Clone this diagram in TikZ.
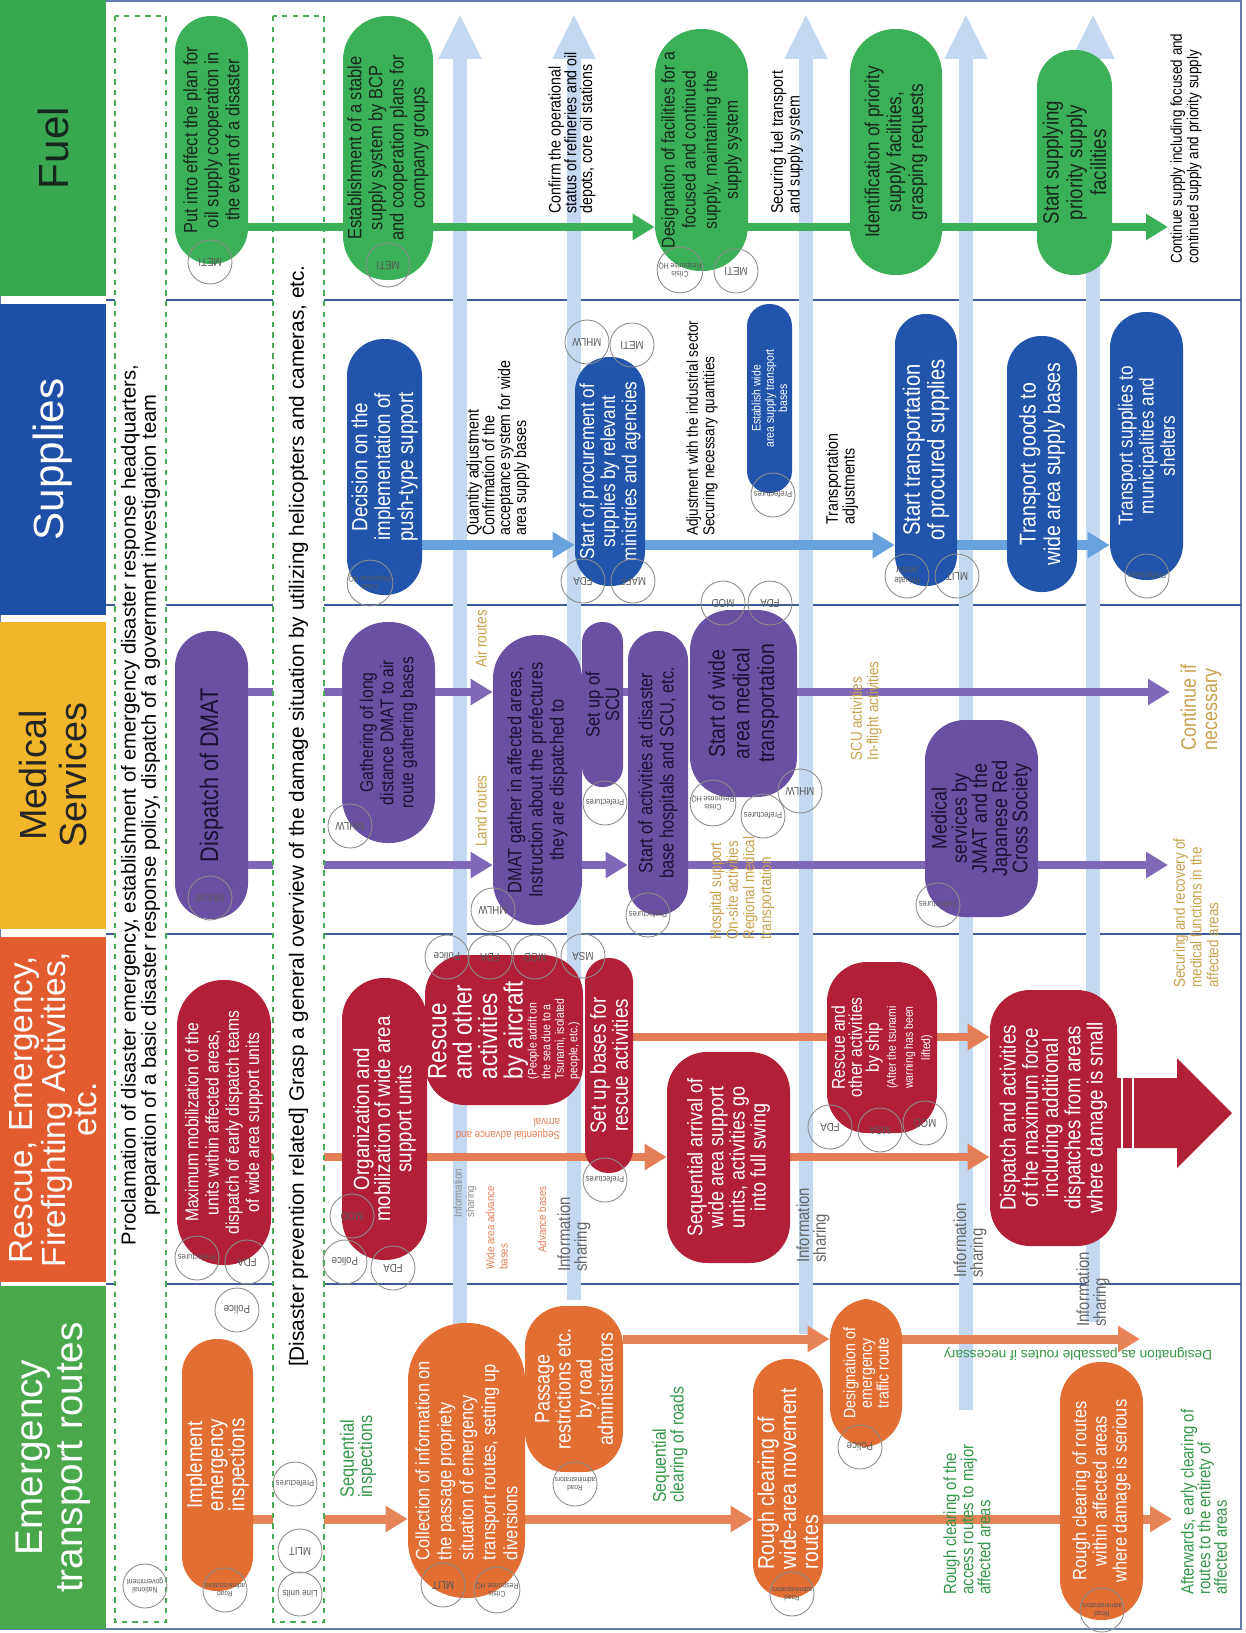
\documentclass[tikz,border=0pt]{standalone}
\usepackage{fontspec}
\setmainfont{Liberation Sans}
\newfontfamily\cond[FakeStretch=0.85]{Liberation Sans}
\usetikzlibrary{arrows.meta,backgrounds}
\definecolor{fuelhead}{RGB}{58,168,80}
\definecolor{fuelgreen}{RGB}{60,176,88}
\definecolor{fueltext}{RGB}{22,40,28}
\definecolor{suphead}{RGB}{30,78,165}
\definecolor{supblue}{RGB}{34,84,172}
\definecolor{suparrow}{RGB}{104,162,222}
\definecolor{medgold}{RGB}{242,182,42}
\definecolor{medpurple}{RGB}{106,80,162}
\definecolor{medarrow}{RGB}{128,104,184}
\definecolor{medtext}{RGB}{24,18,48}
\definecolor{goldtext}{RGB}{200,160,76}
\definecolor{reschead}{RGB}{226,92,48}
\definecolor{rescred}{RGB}{178,32,56}
\definecolor{resarrow}{RGB}{228,126,86}
\definecolor{emghead}{RGB}{74,168,76}
\definecolor{emgorange}{RGB}{226,110,52}
\definecolor{emgarrow}{RGB}{230,132,88}
\definecolor{emglabel}{RGB}{52,150,72}
\definecolor{laneblue}{RGB}{62,92,152}
\definecolor{bandblue}{RGB}{196,216,241}
\definecolor{dashgreen}{RGB}{72,170,82}
\newcommand\px{0.02cm}
\newcommand\fz[2]{\fontsize{#1}{#2}\selectfont}
\tikzset{
  hdr/.style={rectangle, rotate=90, align=center, inner sep=0pt},
  wh/.style 2 args={minimum height=#1*\px, minimum width=#2*\px},
  pl/.style 2 args={rectangle, rotate=90, align=center, inner sep=1pt,
    rounded corners=#1*0.0098cm, wh={#1}{#2}},
  rb/.style 2 args={rectangle, rotate=90, align=center, inner sep=1pt,
    rounded corners=0.8cm, wh={#1}{#2}},
  fuel/.style={fill=fuelgreen, text=fueltext, font=\cond\fz{11}{12}},
  sup/.style={fill=supblue, text=white, font=\cond\fz{11.5}{12}},
  med/.style={fill=medpurple, text=medtext, font=\cond\fz{11}{12}},
  res/.style={fill=rescred, text=white, font=\cond\fz{12}{12}},
  emg/.style={fill=emgorange, text=white, font=\cond\fz{12}{12}},
  note/.style={rotate=90, anchor=west, align=left, inner sep=0pt,
    font=\cond\fz{9}{9.5}},
  stamp/.style={circle, draw=black!45, line width=0.5pt, minimum size=44*\px,
    inner sep=0pt, rotate=180, align=center, text=black!65},
  band/.style={draw=bandblue, line width=0.28cm,
    -{Triangle[length=0.9cm,width=0.8cm]}},
  fuelline/.style={draw=fuelgreen, line width=0.16cm},
  supline/.style={draw=suparrow, line width=0.2cm},
  medline/.style={draw=medarrow, line width=0.16cm},
  resline/.style={draw=resarrow, line width=0.16cm},
  emgline/.style={draw=emgarrow, line width=0.18cm},
  lane/.style={draw=laneblue, line width=0.9pt},
  dashbox/.style={draw=dashgreen, fill=white, dashed, line width=0.9pt}
}
\begin{document}
\begin{tikzpicture}[x=0.02cm,y=-0.02cm,>={Triangle[length=0.44cm,width=0.5cm]}]
  \useasboundingbox (0,0) rectangle (1245,1633);

  \node[hdr,wh={106}{296},fill=fuelhead,text=fueltext,font=\fz{24}{26}] (hFuel) at (53,148) {Fuel};
  \node[hdr,wh={106}{311},fill=suphead,text=white,font=\fz{24}{26}] (hSup) at (53,459.5) {Supplies};
  \node[hdr,wh={106}{307},fill=medgold,text=black!85,font=\fz{21.5}{23}] (hMed) at (53,775.5) {Medical\\Services};
  \node[hdr,wh={106}{345},fill=reschead,text=white,font=\fz{19}{17.5}] (hRes) at (53,1109.5) {Rescue, Emergency,\\Firefighting Activities,\\etc.};
  \node[hdr,wh={106}{343},fill=emghead,text=white,font=\fz{22}{23}] (hEmg) at (53,1457.5) {Emergency\\transport routes};

  \draw[dashbox] (115,16) rectangle (166,1622);
  \draw[dashbox] (273,16) rectangle (324,1622);
  \node[rotate=90,align=center,inner sep=0pt,font=\fz{11.5}{11.5}] (tProcl) at (140.5,805)
    {Proclamation of disaster emergency, establishment of emergency disaster response headquarters,\\preparation of a basic disaster response policy, dispatch of a government investigation team};
  \node[rotate=90,inner sep=0pt,font=\fz{11.8}{12}] (tGrasp) at (298.5,816)
    {{}[Disaster prevention related] Grasp a general overview of the damage situation by utilizing helicopters and cameras, etc.};

  \coordinate (yF) at (0,227);
  \coordinate (yS) at (0,545);
  \coordinate (yM1) at (0,692);
  \coordinate (yM2) at (0,865);
  \coordinate (yRB) at (0,1037);
  \coordinate (yRA) at (0,1157);
  \coordinate (yEA) at (0,1339);
  \coordinate (yEB) at (0,1519);
  \coordinate (fEnd) at (1168,227);
  \coordinate (mEnd1) at (1170,692);
  \coordinate (mEnd2) at (1168,865);
  \coordinate (eEnd1) at (1140,1339);
  \coordinate (eEnd2) at (1172,1519);

  \node[pl={73}{248},fuel] (f1) at (211.5,140) {Put into effect the plan for\\oil supply cooperation in\\the event of a disaster};
  \node[pl={90}{264},fuel] (f2) at (388,148) {Establishment of a stable\\supply system by BCP\\and cooperation plans for\\company groups};
  \node[pl={93}{242},fuel,font=\cond\fz{10.5}{12}] (f3) at (701.5,150) {Designation of facilities for a\\focused and continued\\supply, maintaining the\\supply system};
  \node[pl={92}{246},fuel,font=\cond\fz{11.5}{12.5}] (f4) at (896,152) {Identification of priority\\supply facilities,\\grasping requests};
  \node[pl={75}{225},fuel,font=\cond\fz{12.5}{13.5}] (f5) at (1074.5,162.5) {Start supplying\\priority supply\\facilities};

  \node[pl={75}{256},sup,font=\cond\fz{12.5}{13}] (s1) at (384.5,467) {Decision on the\\implementation of\\push-type support};
  \node[pl={70}{229},sup] (s2) at (610,471.5) {Start of procurement of\\supplies by relevant\\ministries and agencies};
  \node[pl={45}{189},sup,font=\cond\fz{7}{7.5}] (s3) at (769.5,398.5) {Establish wide\\area supply transport\\bases};
  \node[pl={62}{272},sup,font=\cond\fz{13.5}{14}] (s4) at (926,450) {Start transportation\\of procured supplies};
  \node[pl={70}{256},sup,font=\cond\fz{13}{14}] (s5) at (1042,464) {Transport goods to\\wide area supply bases};
  \node[pl={73}{268},sup] (s6) at (1146.5,446) {Transport supplies to\\municipalities and\\shelters};

  \node[pl={73}{288},med,font=\cond\fz{14.5}{15}] (m1) at (211.5,775) {Dispatch of DMAT};
  \node[pl={93}{221},med,font=\cond\fz{10.5}{11.5}] (m2) at (388.5,732.5) {Gathering of long\\distance DMAT to air\\route gathering bases};
  \node[pl={89}{290},med] (m3) at (537.5,780) {DMAT gather in affected areas,\\Instruction about the prefectures\\they are dispatched to};
  \node[pl={41}{165},med,inner sep=0pt,font=\cond\fz{11}{11}] (m4) at (602.5,704.5) {Set up of\\SCU};
  \node[pl={60}{284},med] (m5) at (658,773) {Start of activities at disaster\\base hospitals and SCU, etc.};
  \node[rb={107}{187},med,font=\cond\fz{13}{14}] (m6) at (743.5,703.5) {Start of wide\\area medical\\transportation};
  \node[rb={113}{197},med,font=\cond\fz{12}{11.5}] (m7) at (981.5,818.5) {Medical\\services by\\JMAT and the\\Japanese Red\\Cross Society};

  \node[pl={94}{285},res,font=\cond\fz{10.5}{11.5}] (r1) at (224,1122.5) {Maximum mobilization of the\\units within affected areas,\\dispatch of early dispatch teams\\of wide area support units};
  \node[pl={85}{282},res,font=\cond\fz{12.5}{12}] (r2) at (384.5,1119) {Organization and\\mobilization of wide area\\support units};
  \node[rb={158}{150},res,align=left,inner sep=0pt,font=\cond\fz{15}{14.5}] (r3) at (504,1030) {Rescue\\and other\\activities\\by aircraft\\[-6.5pt]\fz{7}{7.4}(People adrift on\\[-6.8pt]\fz{7}{7.4}the sea due to a\\[-6.8pt]\fz{7}{7.4}Tsunami, isolated\\[-6.8pt]\fz{7}{7.4}people, etc.)};
  \node[pl={48}{215},res,inner sep=0pt,font=\cond\fz{12.5}{12.5}] (r4) at (609,1065.5) {Set up bases for\\rescue activities};
  \node[rb={123}{211},res] (r5) at (728.5,1157.5) {Sequential arrival of\\wide area support\\units, activities go\\into full swing};
  \node[rb={110}{171},res,font=\cond\fz{10.5}{9.7}] (r6) at (882,1047.5) {Rescue and\\other activities\\by ship\\\fz{7}{9.7}(After the tsunami\\\fz{7}{9.7}warning has been\\\fz{7}{9.7}lifted)};
  \node[rb={127}{256},res,font=\cond\fz{12.5}{11.5}] (r7) at (1053.5,1118) {Dispatch and activities\\of the maximum force\\including additional\\dispatches from areas\\where damage is small};

  \node[pl={71}{252},emg,font=\cond\fz{12.5}{12}] (e1) at (217.5,1465) {Implement\\emergency\\inspections};
  \node[pl={117}{275},emg,align=left,font=\cond\fz{11}{12.5}] (e2) at (466.5,1460.5) {Collection of information on\\the passage propriety\\situation of emergency\\transport routes, setting up\\diversions};
  \node[rb={98}{166},emg] (e3) at (574,1389) {Passage\\restrictions etc.\\by road\\administrators};
  \node[pl={70}{239},emg,align=left,font=\cond\fz{13}{12.5}] (e4) at (788,1478.5) {Rough clearing of\\wide-area movement\\routes};
  \node[rb={72}{148},emg,font=\cond\fz{9.5}{9.5}] (e5) at (866,1373) {Designation of\\emergency\\traffic route};
  \node[pl={83}{258},emg,font=\cond\fz{11}{11.5}] (e6) at (1101.5,1491) {Rough clearing of routes\\within affected areas\\where damage is serious};

  \draw[fuelline] (f1.south |- yF) -- (f2.north |- yF);
  \draw[fuelline,->] (f2.south |- yF) -- (f3.north |- yF);
  \draw[fuelline] (f3.south |- yF) -- (f4.north |- yF);
  \draw[fuelline] (f4.south |- yF) -- (f5.north |- yF);
  \draw[fuelline,->] (f5.south |- yF) -- (fEnd);

  \node[note,font=\cond\fz{9.5}{9}] (nConfirm) at (572,214) {Confirm the operational\\status of refineries and oil\\depots, core oil stations};
  \node[note,font=\cond\fz{9.5}{9.5}] (nSecure) at (787,214) {Securing fuel transport\\and supply system};
  \node[note,font=\cond\fz{9}{8}] (nCont) at (1186,264) {Continue supply including focused and\\continued supply and priority supply};
  \node[note,font=\cond\fz{9.5}{9}] (nQty) at (498,536) {Quantity adjustment\\Confirmation of the\\acceptance system for wide\\area supply bases};
  \node[note] (nAdj) at (702,536) {Adjustment with the industrial sector\\Securing necessary quantities};
  \node[note,font=\cond\fz{9.5}{9.5}] (nTrans) at (842,525) {Transportation\\adjustments};

  \node[note,text=goldtext] (nAir) at (481,668) {Air routes};
  \node[note,text=goldtext] (nLand) at (481,847) {Land routes};
  \node[note,text=goldtext] (nHosp) at (742,940) {Hospital support\\On-site activities\\Regional medical\\transportation};
  \node[note,text=goldtext] (nSCU) at (866,761) {SCU activities\\In-flight activities};
  \node[note,text=goldtext,font=\cond\fz{12}{12}] (nContM) at (1201,751) {Continue if\\necessary};
  \node[note,text=goldtext] (nSecM) at (1196,988) {Securing and recovery of\\medical functions in the\\affected areas};

  \node[rotate=180,align=left,inner sep=0pt,text=resarrow,font=\cond\fz{6.5}{7}] (nSeqAdv) at (508,1129) {Sequential advance and\\arrival};
  \node[note,text=black!45,font=\cond\fz{6.5}{7}] (nInfo1) at (465,1218) {Information\\sharing};
  \node[note,text=resarrow,font=\cond\fz{6.5}{7.5}] (nWide) at (497,1270) {Wide area advance\\bases};
  \node[note,text=resarrow,font=\cond\fz{6.5}{7}] (nAdv) at (542,1253) {Advance bases};
  \node[note,text=black!60,font=\cond\fz{10}{9.5}] (nInfo2) at (574,1272) {Information\\sharing};
  \node[note,text=black!60,font=\cond\fz{10}{9.5}] (nInfo3) at (813,1263) {Information\\sharing};
  \node[note,text=black!60,font=\cond\fz{10}{9.5}] (nInfo4) at (970,1278) {Information\\sharing};
  \node[note,text=black!60,font=\cond\fz{10}{9.5}] (nInfo5) at (1093,1327) {Information\\sharing};

  \node[note,text=emglabel,font=\cond\fz{11}{10.5}] (nSeqIns) at (358,1498) {Sequential\\inspections};
  \node[note,text=emglabel,font=\cond\fz{10.5}{10}] (nSeqClr) at (670,1503) {Sequential\\clearing of roads};
  \node[note,text=emglabel,font=\cond\fz{10}{9.7}] (nRough) at (967,1595) {Rough clearing of the\\access routes to major\\affected areas};
  \node[note,text=emglabel,font=\cond\fz{10}{9.5}] (nAfter) at (1204,1595) {Afterwards, early clearing of\\routes to the entirety of\\affected areas};
  \node[rotate=180,inner sep=0pt,text=emglabel,font=\fz{7.8}{8}] (nDesig) at (1078,1354) {Designation as passable routes if necessary};

  \foreach \x/\y/\t/\s [count=\i] in {
    210/262/METI/6.5, 388/265/METI/6.5, 680/270/{Crisis\\Response HQ}/4.6, 736/271/METI/6.5,
    370/583/{Crisis\\Response HQ}/4.6, 587/342/MHLW/6.5, 632/345/METI/6.5, 583/581/FDA/6.5,
    633/581/MAFF/6.5, 773/495/Prefectures/5, 907/576/{Private\\sector}/5.5, 957/576/MLIT/6.5,
    1147/576/Prefectures/5,
    210/898/MHLW/6.5, 350/826/MHLW/6.5, 493/910/MHLW/6.5, 605/803/Prefectures/5,
    648/915/Prefectures/5, 723/603/MOD/6.5, 770/603/FDA/6.5, 713/803/{Crisis\\Response HQ}/4.6,
    763/816/Prefectures/5, 800/791/MHLW/6.5, 938/905/Prefectures/5,
    197/1258/Prefectures/5, 247/1262/FDA/6.5, 352/1216/MOD/6.5, 345/1262/Police/6.5,
    393/1268/FDA/6.5, 447/957/Police/6.5, 490/957/FDA/6.5, 535/957/MOD/6.5, 583/956/MSA/6.5,
    605/1180/Prefectures/5, 830/1127/FDA/6.5, 880/1130/MSA/6.5, 925/1123/MOD/6.5,
    145/1586/{National\\government}/4.6, 225/1590/{Road\\administrators}/4.3, 237/1310/Police/6.5,
    295/1484/Prefectures/5, 300/1551/MLIT/6.5, 300/1594/{Line units}/5.5,
    443/1585/MLIT/6.5, 497/1590/{Crisis\\Response HQ}/4.6, 575/1484/{Road\\administrators}/4.3,
    792/1594/{Road\\administrators}/4.3, 860/1447/Police/6.5, 1102/1610/{Road\\administrators}/4.3}
    \node[stamp,font=\cond\fz{\s}{\s}] (st\i) at (\x,\y) {\t};

  \begin{scope}[on background layer]
    \draw[laneblue!80,line width=0.8pt] (0,1) rectangle (1241,1629);
    \foreach \y in {300,605,934,1284} \draw[lane] (106,\y) -- (1241,\y);
    \foreach \x/\y [count=\i] in {460/1335,574/1300,806/1334,966/1410,1093/1322} {
      \coordinate (bs\i) at (\x,\y);
      \coordinate (be\i) at (\x,14);
      \draw[band] (bs\i) -- (be\i);
    }

    \draw[supline,->] (s1.south |- yS) -- (s2.north |- yS);
    \draw[supline,->] (s2.south |- yS) -- (s4.north |- yS);
    \draw[supline] (s4.south |- yS) -- (s5.north |- yS);
    \draw[supline,->] (s5.south |- yS) -- (s6.north |- yS);

    \draw[medline] (m1.south |- yM1) -- (m2.north |- yM1);
    \draw[medline,->] (m2.south |- yM1) -- (m3.north |- yM1);
    \draw[medline] (m4.south |- yM1) -- (m5.north |- yM1);
    \draw[medline,->] (m6.south |- yM1) -- (mEnd1);
    \draw[medline,->] (m1.south |- yM2) -- (m3.north |- yM2);
    \draw[medline,->] (m3.south |- yM2) -- (m5.north |- yM2);
    \draw[medline] (m5.south |- yM2) -- (m7.north |- yM2);
    \draw[medline,->] (m7.south |- yM2) -- (mEnd2);

    \draw[resline] (r1.south |- yRA) -- (r2.north |- yRA);
    \draw[resline,->] (r2.south |- yRA) -- (r5.north |- yRA);
    \draw[resline,->] (r5.south |- yRA) -- (r7.north |- yRA);
    \draw[resline,->] (r4.south |- yRB) -- (r7.north |- yRB);

    \draw[emgline,->] (e1.south |- yEB) -- (e2.north |- yEB);
    \draw[emgline,->] (e2.south |- yEB) -- (e4.north |- yEB);
    \draw[emgline,->] (e4.south |- yEB) -- (eEnd2);
    \draw[emgline,->] (e3.south |- yEA) -- (e5.north |- yEA);
    \draw[emgline,->] (e5.south |- yEA) -- (eEnd1);

    \fill[rescred] (1110,1078) -- (1177,1078) -- (1177,1058) -- (1232,1113)
      -- (1177,1168) -- (1177,1148) -- (1110,1148) -- cycle;
    \draw[white,line width=0.8pt] (1122,1078) -- (1122,1148) (1133,1078) -- (1133,1148);
  \end{scope}
\end{tikzpicture}
\end{document}
